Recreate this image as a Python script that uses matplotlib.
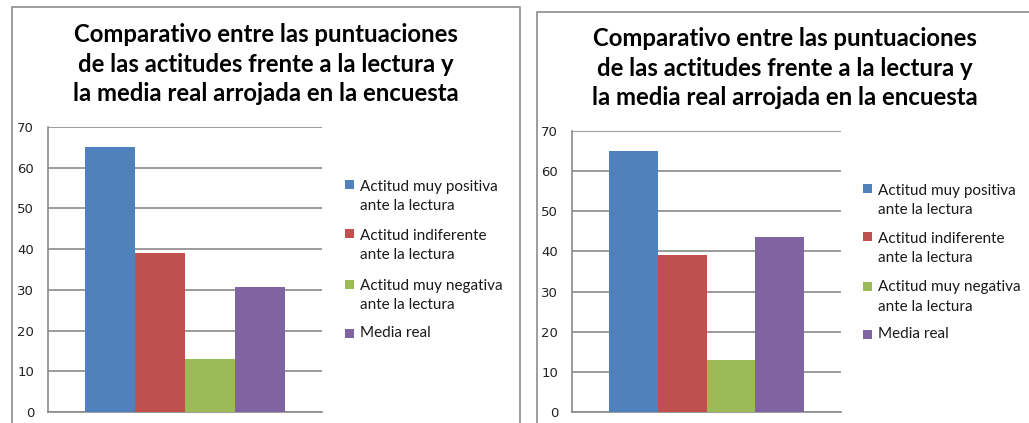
import numpy as np
import matplotlib.pyplot as plt
from matplotlib.patches import Rectangle

W, H = 1029, 423

categories = ["Actitud muy positiva\nante la lectura",
              "Actitud indiferente\nante la lectura",
              "Actitud muy negativa\nante la lectura",
              "Media real"]
colors = ["#4F81BD", "#C0504D", "#9BBB59", "#8064A2"]
left_values = [65, 39, 13, 30.6]
right_values = [65, 39, 13, 43.6]
yticks = [0, 10, 20, 30, 40, 50, 60, 70]
title = ("Comparativo entre las puntuaciones\n"
         "de las actitudes frente a la lectura y\n"
         "la media real arrojada en la encuesta")

fig = plt.figure(figsize=(W / 100, H / 100), dpi=100)


def px_box(x0, y0, x1, y1):
    # pixel box (top-left origin) -> figure fraction [l, b, w, h]
    return [x0 / W, 1 - y1 / H, (x1 - x0) / W, (y1 - y0) / H]


def panel(frame, axbox, title_xy, legend_x, legend_y, values):
    x0, y0, x1, y1 = frame
    fig.patches.append(Rectangle((x0 / W, 1 - y1 / H), (x1 - x0) / W, (y1 - y0) / H,
                                 transform=fig.transFigure, fill=False,
                                 edgecolor="#8c8c8c", linewidth=1.2))
    fig.text(title_xy[0] / W, 1 - title_xy[1] / H, title, ha="center", va="center",
             fontsize=17.2, fontweight="bold", family="Lato", linespacing=1.36)

    ax = fig.add_axes(px_box(*axbox))
    w = 1 / 5.5
    offsets = (np.arange(4) - 1.5) * w
    for off, val, col, lab in zip(offsets, values, colors, categories):
        ax.bar(off, val, w, color=col, label=lab, zorder=3)
    ax.set_xlim(-0.5, 0.5)
    ax.set_ylim(0, 70)
    ax.set_yticks(yticks)
    ax.set_xticks([])
    ax.grid(axis="y", color="#8a8a8a", linewidth=1.2, zorder=0)
    for s in ["top", "right"]:
        ax.spines[s].set_visible(False)
    for s in ["left", "bottom"]:
        ax.spines[s].set_color("#8a8a8a")
        ax.spines[s].set_linewidth(1.2)
    ax.tick_params(axis="y", length=0, pad=10, labelsize=9.5, labelcolor="#222222")

    # legend, Excel style: marker beside the first line of each entry
    line_h = 21
    for lab, col, yc in zip(categories, colors, legend_y):
        n_extra = lab.count("\n")
        fig.patches.append(Rectangle((legend_x / W, 1 - (yc + 5.5) / H), 9 / W, 9 / H,
                                     transform=fig.transFigure, facecolor=col,
                                     edgecolor="none"))
        # baseline of the last line
        yb = yc + 5 + line_h * n_extra
        fig.text((legend_x + 15) / W, 1 - yb / H, lab, ha="left", va="baseline",
                 fontsize=11, family="Lato", color="#1a1a1a", linespacing=1.5)
    return ax


panel((12, 7, 520, 440), (48, 127, 322, 412), (266, 64), 345,
      [184, 233, 283, 332], left_values)
panel((537, 12, 1040, 440), (572, 131, 841, 412), (785, 68), 863,
      [188, 236, 285, 333], right_values)

plt.savefig("out.png", dpi=100)
